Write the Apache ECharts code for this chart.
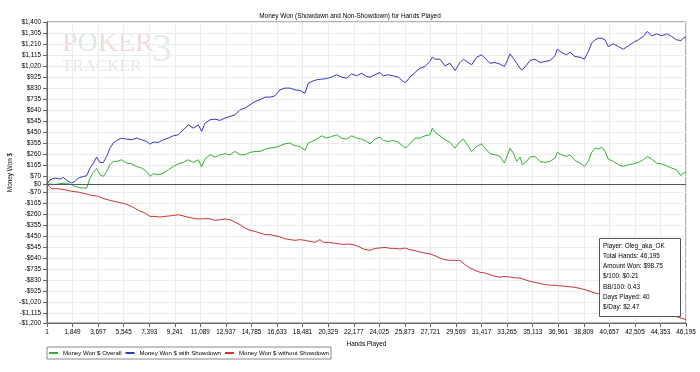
<!DOCTYPE html>
<html><head><meta charset="utf-8">
<script src="https://cdn.jsdelivr.net/npm/echarts@6/dist/echarts.min.js"></script>
<style>html,body{margin:0;padding:0;background:#fff}#c{width:700px;height:372px}</style>
</head><body><div id="c"></div>
<script>
const titleText = 'Money Won (Showdown and Non-Showdown) for Hands Played';
const seriesNames = ['Money Won $ Overall', 'Money Won $ with Showdown', 'Money Won $ without Showdown'];
const seriesColors = ['#33b033', '#3535c8', '#cc3535'];
const yTicks = [-1200, -1115, -1020, -925, -830, -735, -640, -545, -450, -355, -260, -165, -70, 0,
  70, 165, 260, 355, 450, 545, 640, 735, 830, 925, 1020, 1115, 1210, 1305, 1400];
const totalHands = 46195;
const handStep = 1848;

const sharedHands = [1,217,578,940,1181,1422,1783,2024,2265,2626,2867,3108,3349,3590,3831,4072,4313,4554,4795,5036,5398,5759,6121,6482,6844,7205,7446,7687,8048,8410,8771,9133,9494,9856,10217,10578,10940,11181,11422,11783,
  12145,12506,12868,13229,13591,13952,14313,14675,15036,15398,15759,16121,16482,16844,17205,17566,17928,18289,18651,18892,19133,19494,19856,20217,20579,20940,21302,21663,22025,22386,22747,23109,23350,
  23711,24073,24313,24675,25036,25398,25759,25928,26241,26603,26964,27326,27687,27856,28049,28410,28771,29133,29494,29856,30097,30338,30700,31061,31422,31663,32024,32386,32747,33061,33302,33470,33711,33952,34193,34362,34675,34916,
  35278,35639,36000,36362,36723,36892,37205,37567,37808,38169,38531,38844,39133,39374,39615,39856,40097,40338,40579,40940,41302,41663,42025,42386,42747,43109,43398,43711,44073,44434,44796,45157,45519,45832,46000,46195];

const showdownValues = [0,37,52,43,58,32,9,23,52,66,72,138,181,233,187,187,239,311,354,377,397,388,383,397,383,368,345,362,360,383,397,417,426,469,512,483,512,455,526,555,
  561,550,570,584,598,642,656,685,713,728,751,751,762,814,829,829,814,808,785,872,886,901,906,912,924,944,924,915,952,935,958,929,924,
  944,964,935,944,935,924,886,877,924,964,1001,1016,1059,1096,1079,1079,1021,1044,981,1050,1079,1059,1030,1096,1116,1087,1044,1050,1036,1016,1073,1125,1087,1044,1001,987,1030,1067,
  1079,1050,1059,1067,1108,1165,1136,1116,1139,1102,1096,1079,1145,1217,1246,1260,1260,1246,1188,1211,1188,1165,1194,1223,1246,1275,1318,1280,1298,1280,1298,1275,1246,1240,1260,1269];

const overallValues = [0,0,-3,3,6,9,-6,-20,-29,-35,-35,52,101,135,81,66,109,167,196,196,210,181,175,152,138,109,66,89,81,95,124,152,175,187,210,187,210,147,216,253,
  233,253,262,253,282,253,253,273,282,282,302,311,316,331,348,354,331,325,291,354,368,388,417,397,411,426,397,388,417,397,388,368,348,
  388,406,377,368,377,360,325,311,348,397,397,417,426,483,446,417,383,360,311,368,388,348,282,325,348,311,262,253,239,181,253,311,268,196,233,167,196,233,
  239,196,187,196,224,273,253,239,253,204,181,152,196,273,311,302,319,282,216,196,167,152,167,175,187,210,239,216,181,175,158,138,124,72,95,99];

const nonShowdownHands = [1,337,819,1301,1783,2265,2747,3229,3711,4193,4675,5157,5639,6121,6603,7085,7446,7808,8169,8530,9012,9494,9976,10458,10940,11422,11783,
  12145,12506,12868,13229,13591,13952,14313,14675,15036,15398,15759,16121,16482,16844,17205,17566,17928,18289,18651,19012,19374,19735,19976,20338,20699,21060,21422,21783,22145,22506,22868,23350,
  23711,24073,24434,24795,25157,25518,25880,26241,26603,26964,27326,27687,28049,28410,28771,29133,29494,29856,30217,30579,30940,31302,31663,32024,32386,32747,33109,33470,33832,34193,34555,34916,
  35278,36000,36723,37446,38169,38892,39615,40338,41061,41784,42507,43230,43952,44675,45157,45639,46195];
const nonShowdownValues = [0,-40,-40,-49,-63,-69,-83,-98,-106,-129,-144,-158,-170,-193,-227,-250,-279,-279,-285,-279,-273,-265,-279,-293,-302,-299,-299,
  -314,-308,-302,-308,-328,-351,-380,-400,-409,-423,-437,-437,-446,-457,-472,-480,-486,-480,-486,-495,-503,-480,-503,-503,-509,-515,-521,-518,-524,-538,-561,-573,
  -555,-552,-547,-555,-555,-561,-552,-567,-575,-587,-596,-604,-619,-639,-653,-659,-659,-659,-696,-725,-745,-762,-768,-783,-797,-803,-797,-803,-811,-811,-826,-840,
  -849,-869,-875,-883,-892,-912,-941,-962,-1000,-1025,-1045,-1070,-1100,-1125,-1136,-1150,-1170];

const infoLines = ['Player: Oleg_aka_OK', 'Total Hands: 46,195', 'Amount Won: $98.75', '$/100: $0.21', 'BB/100: 0.43', 'Days Played: 40', '$/Day: $2.47'];

const FONT = 'Liberation Sans';
const FS = 6.4;
function money(v) { const s = '$' + Math.abs(v).toLocaleString('en-US'); return v < 0 ? '-' + s : s; }
function pairs(h, v) { return h.map((x, i) => [x - 1, v[i]]); }

const chart = echarts.init(document.getElementById('c'), null, { renderer: 'canvas' });
const lineSeries = (name, data, color, extra) => Object.assign({
  name, type: 'line', data, showSymbol: false, symbol: 'none', animation: false,
  lineStyle: { color, width: 1 }, itemStyle: { color }, z: 3
}, extra || {});

chart.setOption({
  animation: false,
  backgroundColor: '#fff',
  textStyle: { fontFamily: FONT },
  title: { text: titleText, left: 'center', top: 8, textStyle: { fontSize: FS, fontWeight: 'normal', color: '#000', fontFamily: FONT } },
  grid: { left: 47, right: 14, top: 22, bottom: 49, show: true, borderColor: '#666', borderWidth: 1, backgroundColor: 'transparent',
    containLabel: false, outerBoundsMode: 'none' },
  legend: {
    left: 47, top: 347, orient: 'horizontal', icon: 'rect', itemWidth: 9, itemHeight: 2, itemGap: 4,
    borderColor: '#888', borderWidth: 1, padding: [3, 2, 3, 2],
    textStyle: { fontSize: 6.1, color: '#000', fontFamily: FONT },
    data: seriesNames
  },
  xAxis: {
    type: 'value', min: 0, max: totalHands - 1, interval: handStep,
    name: 'Hands Played', nameLocation: 'middle', nameGap: 18, nameMoveOverlap: false,
    nameTextStyle: { fontSize: FS, color: '#000', fontFamily: FONT },
    axisLine: { show: true, onZero: false, lineStyle: { color: '#666' } },
    axisTick: { show: true, length: 4, lineStyle: { color: '#666' } },
    axisLabel: { fontSize: FS, color: '#000', margin: 6, interval: 0, showMinLabel: true, showMaxLabel: true, hideOverlap: false,
      formatter: v => (v + 1).toLocaleString('en-US') },
    splitLine: { show: true, lineStyle: { color: '#ececec', width: 1 } }
  },
  yAxis: {
    type: 'value', min: -1200, max: 1400,
    name: 'Money Won $', nameLocation: 'middle', nameGap: 34, nameRotate: 90, nameMoveOverlap: false,
    nameTextStyle: { fontSize: FS, color: '#000', fontFamily: FONT },
    axisLine: { show: true, onZero: false, lineStyle: { color: '#666' } },
    axisTick: { show: true, length: 4, customValues: yTicks, lineStyle: { color: '#666' } },
    axisLabel: { fontSize: FS, color: '#000', margin: 6, customValues: yTicks, formatter: v => money(v) },
    splitLine: { show: true, lineStyle: { color: '#ececec', width: 1 } }
  },
  graphic: [
    { type: 'text', left: 62, top: 30, z: 0, silent: true,
      style: { text: '{p|P}{o|O}{p|KER}', rich: {
        p: { fontFamily: 'Liberation Serif', fontSize: 28, fill: '#f2dada' },
        o: { fontFamily: 'Liberation Serif', fontSize: 28, fill: '#dce9dc' } } } },
    { type: 'text', left: 62, top: 58, z: 0, silent: true,
      style: { text: 'TRACKER', fontFamily: 'Liberation Serif', fontSize: 17, fill: '#e4e8e4' } },
    { type: 'text', left: 152, top: 30, z: 0, silent: true,
      style: { text: '3', fontFamily: 'Liberation Serif', fontSize: 40, fill: '#e2eee2' } },
    { type: 'rect', z: 100, zlevel: 1, silent: true, shape: { x: 599.5, y: 238.5, width: 81, height: 78 },
      style: { fill: '#fff', stroke: '#555', lineWidth: 1 } },
    { type: 'text', z: 101, zlevel: 1, silent: true, x: 603, y: 241,
      style: { text: infoLines.join('\n'), fontFamily: FONT, fontSize: FS, lineHeight: 10.2, fill: '#000' } }
  ],
  series: [
    lineSeries(seriesNames[0], pairs(sharedHands, overallValues), seriesColors[0], {
      markLine: { silent: true, symbol: 'none', animation: false, label: { show: false },
        lineStyle: { color: '#555', width: 1, type: 'solid' }, emphasis: { disabled: true }, data: [{ yAxis: 0 }] }
    }),
    lineSeries(seriesNames[1], pairs(sharedHands, showdownValues), seriesColors[1]),
    lineSeries(seriesNames[2], pairs(nonShowdownHands, nonShowdownValues), seriesColors[2])
  ]
});
</script></body></html>
